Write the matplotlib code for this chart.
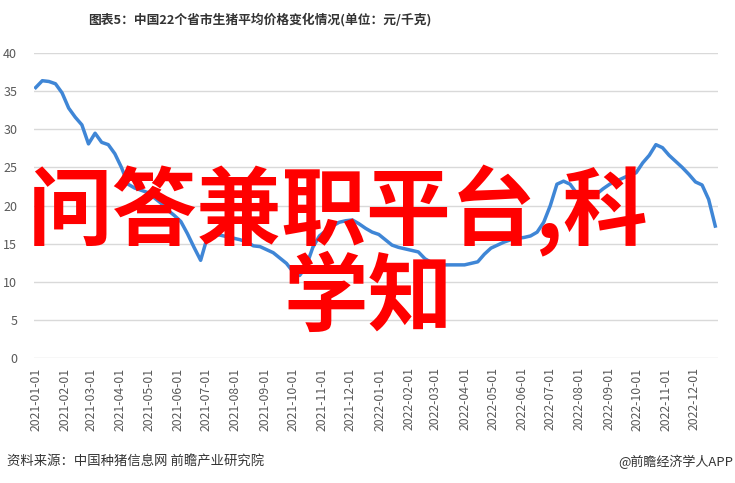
import matplotlib
matplotlib.use('Agg')
import matplotlib.pyplot as plt
import matplotlib.dates as mdates
import pandas as pd

plt.rcParams['font.family'] = ['Noto Sans CJK SC', 'DejaVu Sans']

# weekly prices, first week 2021-01-01
start_date = '2021-01-01'
prices = [35.5, 36.4, 36.3, 36.0, 34.8, 32.8, 31.6, 30.6, 28.1, 29.5,
          28.3, 28.0, 26.8, 25.0, 22.8, 22.3, 22.0, 21.7, 21.0, 20.3,
          19.4, 18.7, 17.9, 16.3, 14.5, 12.8, 15.8, 16.2, 16.1, 15.9,
          15.7, 15.5, 15.2, 14.7, 14.6, 14.2, 13.8, 13.1, 12.4, 11.3,
          10.8, 12.0, 14.5, 16.0, 16.7, 17.3, 17.8, 18.0, 18.1, 17.6,
          17.0, 16.5, 16.2, 15.5, 14.8, 14.5, 14.3, 14.1, 13.9, 13.0,
          12.5, 12.3, 12.2, 12.2, 12.2, 12.2, 12.4, 12.6, 13.6, 14.4,
          14.8, 15.2, 15.5, 15.7, 15.8, 16.0, 16.5, 17.8, 20.0, 22.8,
          23.2, 22.8, 21.6, 21.3, 21.2, 21.5, 22.2, 22.8, 23.2, 23.6,
          24.0, 24.3, 25.6, 26.6, 28.0, 27.6, 26.6, 25.8, 25.0, 24.1,
          23.1, 22.7, 20.8, 17.3]
dates = pd.date_range(start_date, periods=len(prices), freq='7D')
y_ticks = [0, 5, 10, 15, 20, 25, 30, 35, 40]

title = '图表5：中国22个省市生猪平均价格变化情况(单位：元/千克)'
source = '资料来源：中国种猪信息网 前瞻产业研究院'
brand = '@前瞻经济学人APP'
overlay1 = '问答兼职平台,科'
overlay2 = '学知'

fig = plt.figure(figsize=(7.35, 4.83), dpi=100)
ax = fig.add_axes([0.046, 0.2594, 0.931, 0.6302])

ax.plot(dates, prices, color='#3f86d6', lw=2.5, solid_joinstyle='round')

ax.set_ylim(0, 40)
ax.set_yticks(y_ticks)
ax.set_xlim(dates[0] - pd.Timedelta(days=2), dates[-1] + pd.Timedelta(days=3))
ax.xaxis.set_major_locator(mdates.MonthLocator())
ax.xaxis.set_major_formatter(mdates.DateFormatter('%Y-%m-%d'))
ax.grid(axis='y', color='#d9d9d9', lw=1)
ax.set_axisbelow(True)
for s in ax.spines.values():
    s.set_visible(False)
ax.tick_params(axis='both', length=0, colors='#595959')
ax.tick_params(axis='y', pad=12, labelsize=9)
ax.tick_params(axis='x', pad=7, labelsize=8.8, rotation=90)

fig.text(0.354, 1 - 20 / 483, title, ha='center', va='center',
         fontsize=9.2, fontweight='bold', color='#333333')
fig.text(7 / 735, 1 - 462 / 483, source, ha='left', va='center',
         fontsize=9.6, color='#333333')
fig.text(733 / 735, 1 - 462 / 483, brand, ha='right', va='center',
         fontsize=9.4, color='#333333')

# big red overlay text
fig.text(28 / 735, 1 - 211 / 483, overlay1, ha='left', va='center',
         fontsize=61, fontweight='bold', color='#ff0000')
fig.text(368 / 735, 1 - 299 / 483, overlay2, ha='center', va='center',
         fontsize=61, fontweight='bold', color='#ff0000')

fig.savefig('out.png', dpi=100)
